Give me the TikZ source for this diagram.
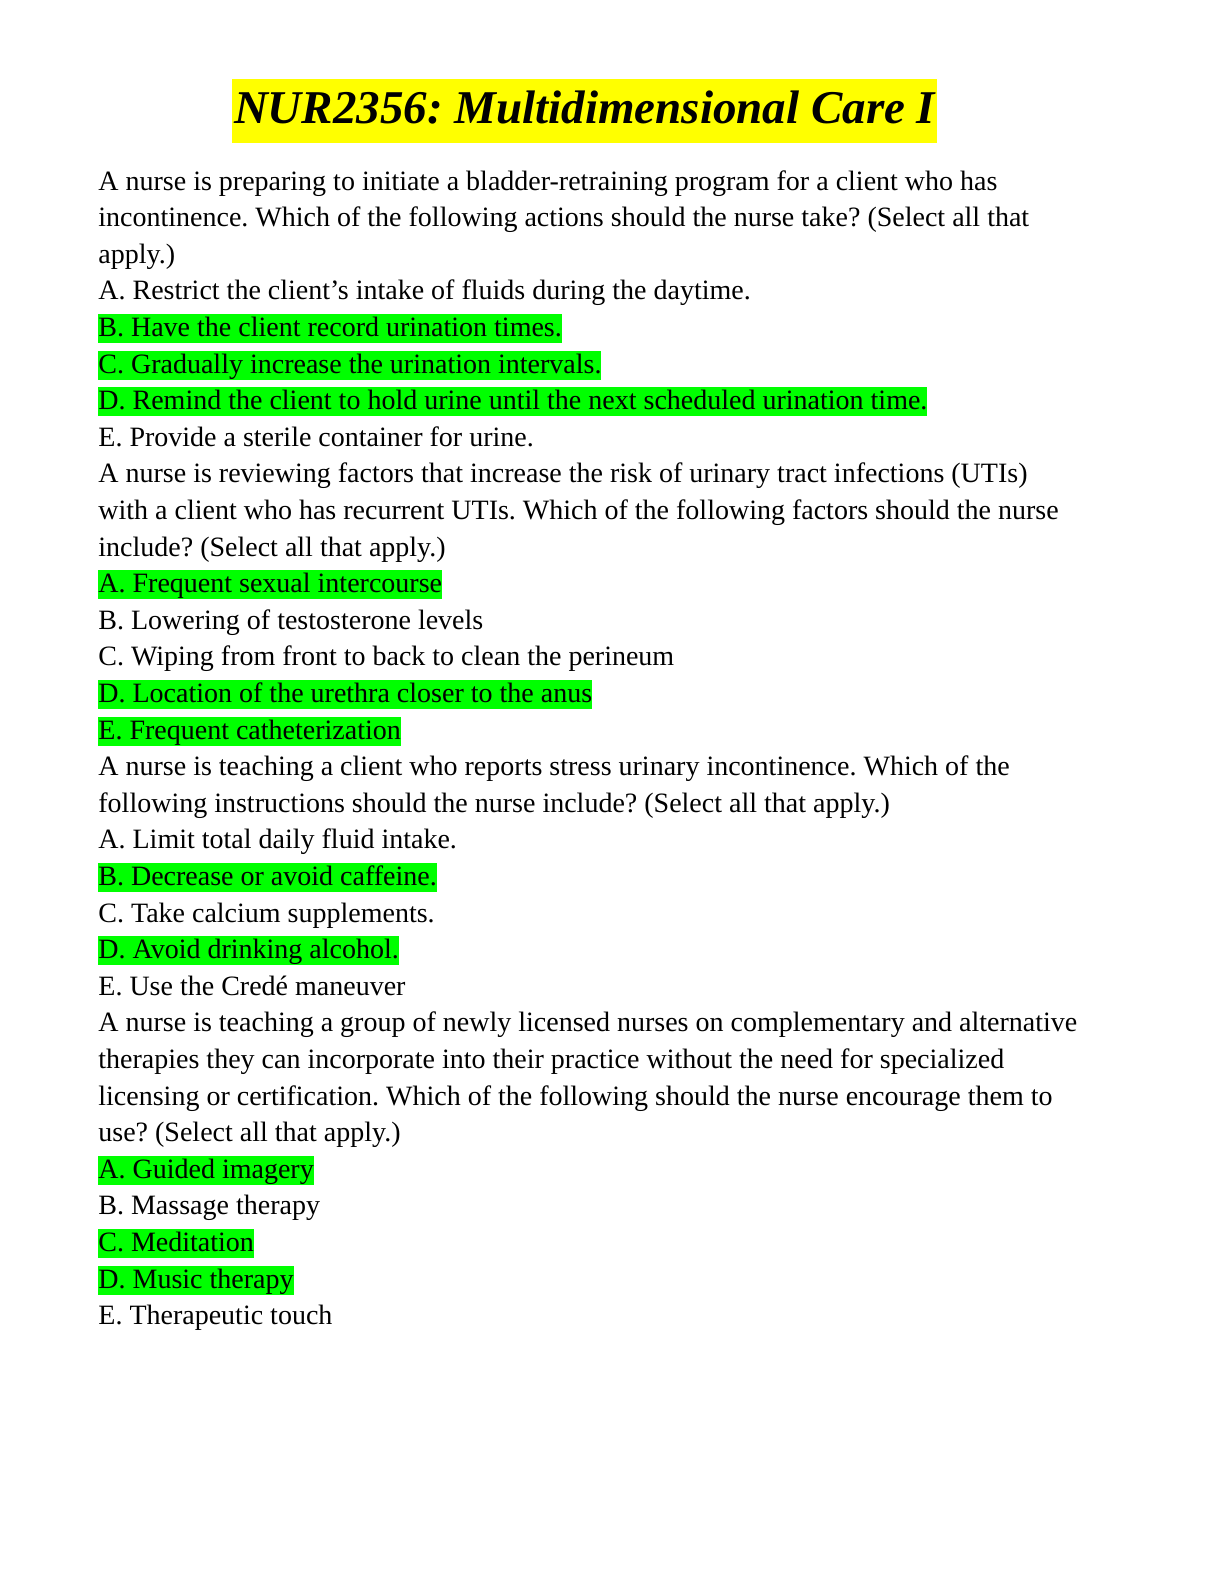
\documentclass[tikz,border=0pt]{standalone}
\usepackage{fontspec}
\setmainfont{Liberation Serif}
\definecolor{keygreen}{RGB}{0,255,0}
\definecolor{titleyellow}{RGB}{255,255,0}
\tikzset{
  line/.style={anchor=base west, inner xsep=0pt, inner ysep=0pt, font=\fontsize{14pt}{16pt}\selectfont},
  key/.style={line, fill=keygreen, text height=11.2pt, text depth=3.4pt}
}
\frenchspacing
\begin{document}
\begin{tikzpicture}[x=1pt,y=1pt]
  \useasboundingbox (0,0) rectangle (612,-792);
  \node[fill=titleyellow, inner xsep=1pt, text height=19pt, text depth=6pt,
    font=\fontsize{23.5pt}{28pt}\selectfont\bfseries\itshape] (title) at (292.3,-55.5)
    {NUR2356: Multidimensional Care I};

  \node[line] (l1)  at (49,-95)    {A nurse is preparing to initiate a bladder-retraining program for a client who has};
  \node[line] (l2)  at (49,-113.3) {incontinence. Which of the following actions should the nurse take? (Select all that};
  \node[line] (l3)  at (49,-131.6) {apply.)};
  \node[line] (l4)  at (49,-149.9) {A. Restrict the client\char"27 s intake of fluids during the daytime.};
  \node[key]  (l5)  at (49,-168.2) {B. Have the client record urination times.};
  \node[key]  (l6)  at (49,-186.5) {C. Gradually increase the urination intervals.};
  \node[key]  (l7)  at (49,-204.8) {D. Remind the client to hold urine until the next scheduled urination time.};
  \node[line] (l8)  at (49,-223.1) {E. Provide a sterile container for urine.};
  \node[line] (l9)  at (49,-241.4) {A nurse is reviewing factors that increase the risk of urinary tract infections (UTIs)};
  \node[line] (l10) at (49,-259.7) {with a client who has recurrent UTIs. Which of the following factors should the nurse};
  \node[line] (l11) at (49,-278.0) {include? (Select all that apply.)};
  \node[key]  (l12) at (49,-296.3) {A. Frequent sexual intercourse};
  \node[line] (l13) at (49,-314.6) {B. Lowering of testosterone levels};
  \node[line] (l14) at (49,-332.9) {C. Wiping from front to back to clean the perineum};
  \node[key]  (l15) at (49,-351.2) {D. Location of the urethra closer to the anus};
  \node[key]  (l16) at (49,-369.5) {E. Frequent catheterization};
  \node[line] (l17) at (49,-387.8) {A nurse is teaching a client who reports stress urinary incontinence. Which of the};
  \node[line] (l18) at (49,-406.1) {following instructions should the nurse include? (Select all that apply.)};
  \node[line] (l19) at (49,-424.4) {A. Limit total daily fluid intake.};
  \node[key]  (l20) at (49,-442.7) {B. Decrease or avoid caffeine.};
  \node[line] (l21) at (49,-461.0) {C. Take calcium supplements.};
  \node[key]  (l22) at (49,-479.3) {D. Avoid drinking alcohol.};
  \node[line] (l23) at (49,-497.6) {E. Use the Credé maneuver};
  \node[line] (l24) at (49,-515.9) {A nurse is teaching a group of newly licensed nurses on complementary and alternative};
  \node[line] (l25) at (49,-534.2) {therapies they can incorporate into their practice without the need for specialized};
  \node[line] (l26) at (49,-552.5) {licensing or certification. Which of the following should the nurse encourage them to};
  \node[line] (l27) at (49,-570.8) {use? (Select all that apply.)};
  \node[key]  (l28) at (49,-589.1) {A. Guided imagery};
  \node[line] (l29) at (49,-607.4) {B. Massage therapy};
  \node[key]  (l30) at (49,-625.7) {C. Meditation};
  \node[key]  (l31) at (49,-644.0) {D. Music therapy};
  \node[line] (l32) at (49,-662.3) {E. Therapeutic touch};
\end{tikzpicture}
\end{document}
